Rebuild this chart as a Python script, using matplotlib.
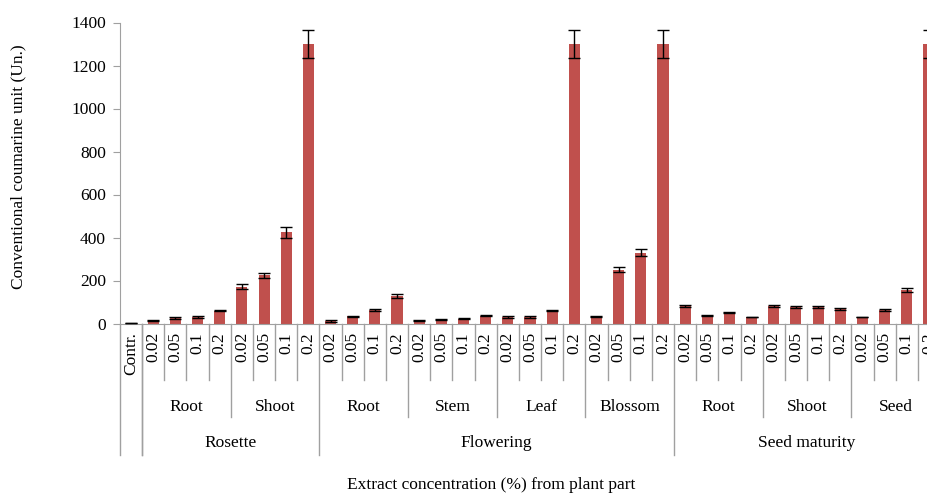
import numpy as np
import matplotlib
matplotlib.use("Agg")
import matplotlib.pyplot as plt

plt.rcParams['font.family'] = ['Liberation Serif', 'DejaVu Serif']

# ---------------- Data ----------------
concentrations = ["0.02", "0.05", "0.1", "0.2"]
stages = ["Rosette", "Flowering", "Seed maturity"]
parts = {
    "Rosette": ["Root", "Shoot"],
    "Flowering": ["Root", "Stem", "Leaf", "Blossom"],
    "Seed maturity": ["Root", "Shoot", "Seed"],
}

control_value = 2
control_err = 1

rosette_root = [15, 25, 30, 60]
rosette_root_err = [3, 3, 3, 4]
rosette_shoot = [172, 225, 425, 1300]
rosette_shoot_err = [12, 12, 25, 65]

flowering_root = [12, 33, 62, 128]
flowering_root_err = [3, 3, 4, 10]
flowering_stem = [15, 18, 22, 37]
flowering_stem_err = [2, 2, 3, 3]
flowering_leaf = [30, 30, 60, 1300]
flowering_leaf_err = [3, 3, 3, 65]
flowering_blossom = [33, 250, 330, 1300]
flowering_blossom_err = [3, 12, 17, 65]

seed_root = [82, 39, 50, 30]
seed_root_err = [5, 2, 3, 2]
seed_shoot = [82, 78, 77, 68]
seed_shoot_err = [5, 5, 6, 5]
seed_seed = [30, 62, 155, 1300]
seed_seed_err = [2, 4, 8, 65]

values = ([control_value] + rosette_root + rosette_shoot
          + flowering_root + flowering_stem + flowering_leaf + flowering_blossom
          + seed_root + seed_shoot + seed_seed)
errors = ([control_err] + rosette_root_err + rosette_shoot_err
          + flowering_root_err + flowering_stem_err + flowering_leaf_err + flowering_blossom_err
          + seed_root_err + seed_shoot_err + seed_seed_err)

# ---------------- Figure ----------------
W, H = 928, 493
fs = 12.5
fig = plt.figure(figsize=(W / 100, H / 100), dpi=100)
ax_left, ax_right, ax_top, ax_bottom = 120, 940, 22.5, 323.5
ax = fig.add_axes([ax_left / W, 1 - ax_bottom / H,
                   (ax_right - ax_left) / W, (ax_bottom - ax_top) / H])

n = len(values)
x = np.arange(n) + 0.5
ax.bar(x, values, width=0.5, color="#C0504D", zorder=2)
ax.errorbar(x, values, yerr=errors, fmt="none", ecolor="black",
            elinewidth=1, capsize=4.2, capthick=1, zorder=3)

ax.set_xlim(0, n)
ax.set_ylim(0, 1400)
ax.set_yticks(range(0, 1401, 200))
ax.set_xticks([])
gray = "#A0A0A0"
for s in ["top", "right"]:
    ax.spines[s].set_visible(False)
ax.spines["left"].set_color(gray)
ax.spines["bottom"].set_color(gray)
ax.tick_params(axis="y", colors=gray, labelcolor="black", length=5,
               pad=5, labelsize=fs)

# ---------------- Multi-level category axis ----------------
trans = ax.get_xaxis_transform()
axh = ax_bottom - ax_top


def frac(py):
    return (ax_bottom - py) / axh


y_short, y_part, y_full = frac(380), frac(417), frac(455)
line_kw = dict(transform=trans, color=gray, lw=1, clip_on=False)

# control slot
ax.plot([0, 0], [0, y_full], **line_kw)
ax.plot([1, 1], [0, y_full], **line_kw)
ax.text(0.5, frac(332), "Contr.", transform=trans, rotation=90,
        ha="center", va="top", fontsize=fs)

pos = 1
for stage in stages:
    stage_start = pos
    for part in parts[stage]:
        part_start = pos
        for j, c in enumerate(concentrations):
            ax.text(pos + 0.5, frac(332), c, transform=trans, rotation=90,
                    ha="center", va="top", fontsize=fs)
            if j > 0:
                ax.plot([pos, pos], [0, y_short], **line_kw)
            pos += 1
        ax.text((part_start + pos) / 2, frac(407), part, transform=trans,
                ha="center", va="center", fontsize=fs)
        if part_start != stage_start:
            ax.plot([part_start, part_start], [0, y_part], **line_kw)
    ax.text((stage_start + pos) / 2, frac(443), stage, transform=trans,
            ha="center", va="center", fontsize=fs)
    ax.plot([stage_start, stage_start], [0, y_full], **line_kw)
ax.plot([pos, pos], [0, y_full], **line_kw)

fig.text(18 / W, 1 - 167 / H, "Conventional coumarine unit (Un.)",
         rotation=90, ha="center", va="center", fontsize=fs)
fig.text(491 / W, 1 - 485 / H, "Extract concentration (%) from plant part",
         ha="center", va="center", fontsize=fs)

fig.savefig("out.png", dpi=100)
